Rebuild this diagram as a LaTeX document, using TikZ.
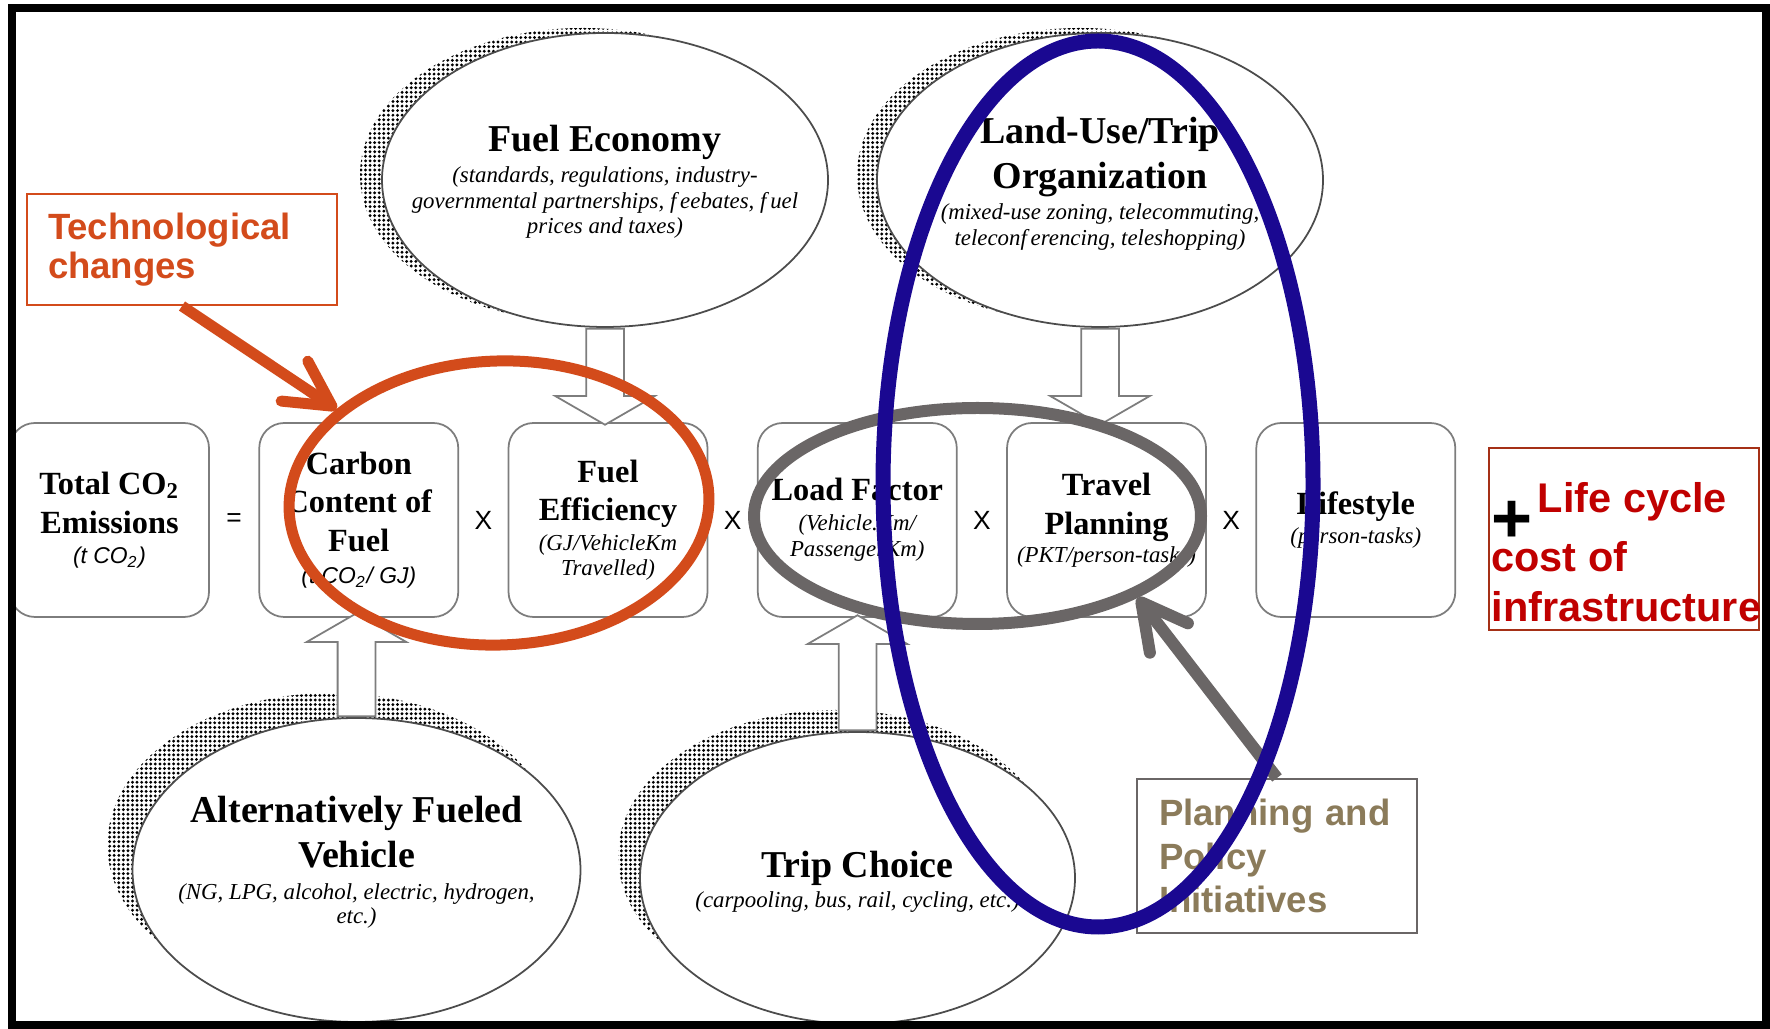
\documentclass[tikz,border=0pt]{standalone}
\usepackage{fontspec}
\setmainfont{Liberation Serif}
\setsansfont{Liberation Sans}
\usetikzlibrary{positioning, calc, shapes.geometric, shapes.arrows, shadows, patterns.meta, arrows.meta}

\definecolor{techorange}{RGB}{211,75,27}
\definecolor{ringgray}{RGB}{106,102,102}
\definecolor{ringblue}{RGB}{26,8,145}
\definecolor{policytan}{RGB}{139,123,90}
\definecolor{lifered}{RGB}{192,0,0}
\definecolor{lifeframe}{RGB}{165,48,22}
\definecolor{linegray}{RGB}{125,125,125}

\newcommand{\titlefont}{\fontsize{9.2}{11}\selectfont\bfseries}
\newcommand{\bigtitlefont}{\fontsize{10.8}{12.8}\selectfont\bfseries}
\newcommand{\detailfont}{\normalfont\fontsize{6.5}{7.4}\selectfont\itshape}
\newcommand{\unitfont}{\normalfont\fontsize{6.5}{7.4}\selectfont\sffamily\itshape}

\tikzset{
  factor/.style={draw=linegray, line width=0.5pt, rounded corners=0.25cm, minimum width=1.99cm, minimum height=1.94cm, inner sep=0pt, align=center, font=\titlefont},
  op/.style={font=\fontsize{7.5}{9}\selectfont\sffamily},
  influence/.style 2 args={ellipse, draw=black!70, line width=0.5pt, fill=white, inner sep=0pt,
    general shadow={shadow xshift=#1, shadow yshift=#2, pattern={Dots[distance=1.3pt, radius=0.46pt]}}},
  lbl/.style={align=center, font=\bigtitlefont},
  fatarrow/.style={single arrow, draw=linegray, line width=0.5pt, fill=white, inner xsep=0pt, inner ysep=0.18cm,
    single arrow head extend=0.31cm, single arrow tip angle=120},
  ring/.style={ellipse, draw, inner sep=0pt},
  pointer/.style={-{Straight Barb[length=0.45cm, width=0.48cm, round]}},
  techbox/.style={draw=techorange, line width=0.6pt, text=techorange, font=\fontsize{10.4}{10.9}\selectfont\sffamily\bfseries,
    align=left, text width=2.68cm, inner xsep=0.21cm, minimum height=1.11cm},
  policybox/.style={draw=ringgray, line width=0.6pt, text=policytan, font=\fontsize{10.4}{12.5}\selectfont\sffamily\bfseries,
    align=left, text width=2.36cm, inner xsep=0.22cm, minimum height=1.54cm},
  lifebox/.style={draw=lifeframe, line width=0.7pt, minimum width=2.70cm, minimum height=1.82cm},
  lifetext/.style={text=lifered, font=\fontsize{11.8}{15.5}\selectfont\sffamily\bfseries, align=left, inner sep=0pt}
}

\begin{document}
\begin{tikzpicture}
\useasboundingbox (0,0) rectangle (17.70,-10.29);

% the product of factors
\node[factor] (total) at (1.095,-5.20) {Total CO\textsubscript{2}\\Emissions\\[-2.5pt]{\unitfont (t CO\textsubscript{2})}};
\node[factor, right=0.485cm of total] (carbon) {Carbon\\Content of\\Fuel\\[-1.9pt]{\unitfont (t CO\textsubscript{2}/ GJ)}};
\node[factor, right=0.485cm of carbon] (fueleff) {Fuel\\Efficiency\\[-2.5pt]{\detailfont (GJ/VehicleKm}\\[-3.9pt]{\detailfont Travelled)}};
\node[factor, right=0.485cm of fueleff] (load) {Load Factor\\[-2.5pt]{\detailfont (Vehicle.Km/}\\[-3.6pt]{\detailfont PassengerKm)}};
\node[factor, right=0.485cm of load] (travel) {Travel\\Planning\\[-3pt]{\detailfont (PKT/person-tasks)}};
\node[factor, right=0.485cm of travel] (lifestyle) {Lifestyle\\[-2.5pt]{\detailfont (person-tasks)}};

\node[op] (equals) at ($(total.east)!0.5!(carbon.west)$) {=};
\node[op] (times1) at ($(carbon.east)!0.5!(fueleff.west)$) {X};
\node[op] (times2) at ($(fueleff.east)!0.5!(load.west)$) {X};
\node[op] (times3) at ($(load.east)!0.5!(travel.west)$) {X};
\node[op] (times4) at ($(travel.east)!0.5!(lifestyle.west)$) {X};

% policy levers
\node[influence={-0.22cm}{0.05cm}, minimum width=4.46cm, minimum height=2.94cm] (economy) at (6.05,-1.80) {};
\node[influence={-0.20cm}{0.05cm}, minimum width=4.46cm, minimum height=2.94cm] (landuse) at (11.00,-1.80) {};
\node[influence={-0.25cm}{0.25cm}, minimum width=4.48cm, minimum height=3.04cm] (altfuel) at (3.565,-8.70) {};
\node[influence={-0.22cm}{0.22cm}, minimum width=4.35cm, minimum height=2.92cm] (tripchoice) at (8.575,-8.78) {};

\node[lbl] (economytxt) at ([yshift=-0.02cm]economy.center) {Fuel Economy\\[-4pt]{\detailfont (standards, regulations, industry-}\\[-5.5pt]{\detailfont governmental partnerships, f\,eebates, f\,uel}\\[-5.5pt]{\detailfont prices and taxes)}};
\node[lbl] (landusetxt) at ([yshift=-0.04cm]landuse.center) {Land-Use/Trip\\Organization\\[-4pt]{\detailfont (mixed-use zoning, telecommuting,}\\[-5.5pt]{\detailfont teleconf\,erencing, teleshopping)}};
\node[lbl] (altfueltxt) at ([yshift=0.08cm]altfuel.center) {Alternatively Fueled\\Vehicle\\[-3.7pt]{\detailfont (NG, LPG, alcohol, electric, hydrogen,}\\[-6pt]{\detailfont etc.)}};
\node[lbl] (tripchoicetxt) at ([yshift=-0.04cm]tripchoice.center) {Trip Choice\\[-4.3pt]{\detailfont (carpooling, bus, rail, cycling, etc.)}};

\node[fatarrow, rotate=-90, minimum height=0.96cm, anchor=tail] (economyarrow) at (economy.south) {};
\node[fatarrow, rotate=-90, minimum height=0.96cm, anchor=tail] (landusearrow) at (landuse.south) {};
\node[fatarrow, rotate=90, minimum height=1.03cm, anchor=tail] (altfuelarrow) at (altfuel.north) {};
\node[fatarrow, rotate=90, minimum height=1.15cm, anchor=tail] (triparrow) at (tripchoice.north) {};

% annotations on top
\node[techbox] (techbox) at (1.82,-2.495) {Technological\\changes};
\node[policybox] (policy) at (12.77,-8.56) {Planning and\\Policy\\Initiatives};
\node[lifebox] (lifecost) at (16.24,-5.39) {};
\node[lifetext, anchor=north west] (lifecosttxt) at ([xshift=0.03cm, yshift=-0.35cm]lifecost.north west)
  {\smash{\raisebox{-0.30cm}{\color{black}\fontsize{20}{20}\selectfont +}}\hspace{1.5pt}Life cycle\\[1.2pt]cost of\\[-1.3pt]infrastructure};

\node[ring, draw=ringgray, line width=0.12cm, minimum width=4.47cm, minimum height=2.16cm] (planring) at (9.775,-5.16) {};
\draw[pointer, draw=ringgray, line width=0.12cm] (policy.north) -- (planring.-27);

\node[ring, draw=techorange, line width=0.11cm, minimum width=4.20cm, minimum height=2.84cm, rotate=2] (techring) at (4.99,-5.03) {};
\draw[pointer, draw=techorange, line width=0.11cm] (techbox.south) -- (techring.148);

\node[ring, draw=ringblue, line width=0.15cm, minimum width=4.30cm, minimum height=8.86cm] (bluering) at (10.98,-4.84) {};

\draw[line width=0.08cm] (0.12,-0.08) rectangle (17.66,-10.25);
\end{tikzpicture}
\end{document}
